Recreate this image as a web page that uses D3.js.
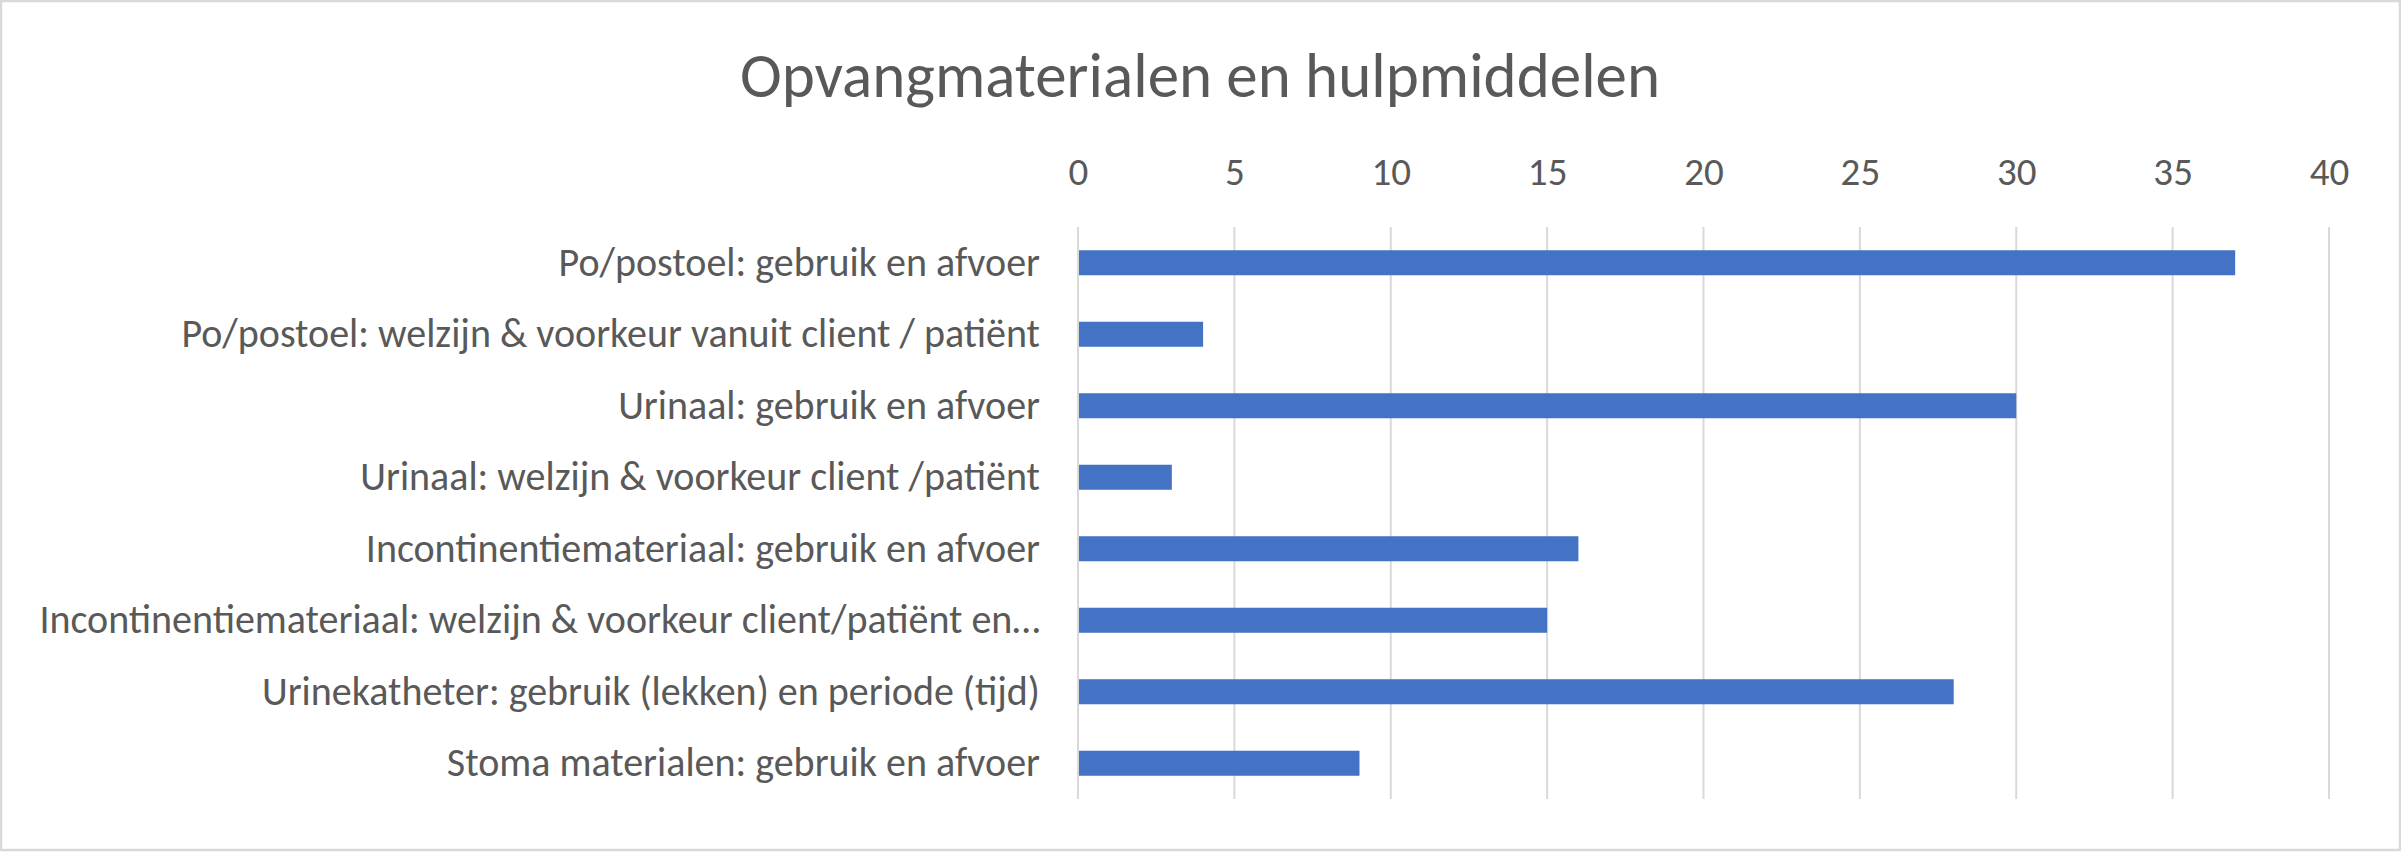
<!DOCTYPE html>
<html>
<head>
<meta charset="utf-8">
<script src="https://cdn.jsdelivr.net/npm/d3@7"></script>
<style>
  html, body { margin: 0; padding: 0; background: #fff; }
  svg { display: block; }
  text { font-family: Carlito, Calibri, Lato, "Open Sans", sans-serif; fill: #595959; }
</style>
</head>
<body>
<svg id="chart" width="2401" height="852"></svg>
<script>
const title = "Opvangmaterialen en hulpmiddelen";
const categories = [
  "Po/postoel: gebruik en afvoer",
  "Po/postoel: welzijn & voorkeur vanuit client / patiënt",
  "Urinaal: gebruik en afvoer",
  "Urinaal: welzijn & voorkeur client /patiënt",
  "Incontinentiemateriaal: gebruik en afvoer",
  "Incontinentiemateriaal: welzijn & voorkeur client/patiënt en…",
  "Urinekatheter: gebruik (lekken) en periode (tijd)",
  "Stoma materialen: gebruik en afvoer"
];
const values = [37, 4, 30, 3, 16, 15, 28, 9];
const tickValues = [0, 5, 10, 15, 20, 25, 30, 35, 40];

const W = 2401, H = 852;
const margin = { left: 1078, right: 72, top: 227, bottom: 53 };
const svg = d3.select("#chart");
const FONT = "Carlito, Calibri, Lato, 'Open Sans', sans-serif";

svg.append("rect")
  .attr("x", 1).attr("y", 1).attr("width", W - 2).attr("height", H - 3)
  .attr("fill", "#fff").attr("stroke", "#D9D9D9").attr("stroke-width", 2.5);

const x = d3.scaleLinear().domain([0, 40]).range([margin.left, W - margin.right]);
const y = d3.scaleBand().domain(categories).range([margin.top, H - margin.bottom]).padding(0);
const barH = y.bandwidth() * 0.35;

// gridlines
svg.append("g").selectAll("line").data(tickValues).join("line")
  .attr("x1", d => x(d)).attr("x2", d => x(d))
  .attr("y1", margin.top).attr("y2", H - margin.bottom)
  .attr("stroke", "#D9D9D9").attr("stroke-width", 2);

// top axis labels
const axis = d3.axisTop(x).tickValues(tickValues).tickSize(0).tickPadding(0);
const gx = svg.append("g").attr("transform", `translate(0,185)`).call(axis);
gx.select(".domain").remove();
gx.selectAll("text").attr("font-size", 39).attr("fill", "#595959").style("font-family", FONT);

// bars
svg.append("g").selectAll("rect").data(values).join("rect")
  .attr("x", x(0) + 1)
  .attr("y", (d, i) => y(categories[i]) + y.bandwidth() / 2 - barH / 2)
  .attr("width", d => x(d) - x(0) - 1)
  .attr("height", barH)
  .attr("fill", "#4472C4");

// category labels
const gy = svg.append("g").attr("transform", `translate(${margin.left - 38},0)`)
  .call(d3.axisLeft(y).tickSize(0).tickPadding(0));
gy.select(".domain").remove();
gy.selectAll("text").attr("font-size", 40).attr("fill", "#595959")
  .attr("dy", "0.33em").style("font-family", FONT);

// title
svg.append("text").attr("x", 1200).attr("y", 97)
  .attr("text-anchor", "middle").attr("font-size", 63)
  .text(title);
</script>
</body>
</html>
